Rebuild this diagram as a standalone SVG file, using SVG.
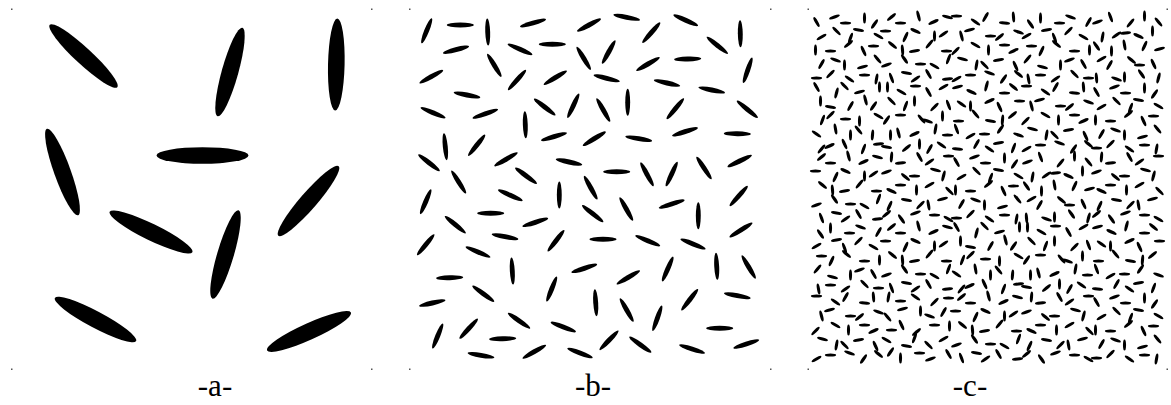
<svg xmlns="http://www.w3.org/2000/svg" xmlns:xlink="http://www.w3.org/1999/xlink" width="1171" height="405" viewBox="0 0 1171 405">
<style>
.lbl{font-family:"Liberation Serif","DejaVu Serif",serif;font-size:31px;fill:#000;text-anchor:middle}
.dot{fill:#555}
</style>
<defs>
<ellipse id="ea" cx="0" cy="0" rx="46" ry="8.3" fill="#000"/>
<ellipse id="eb" cx="0" cy="0" rx="13.5" ry="2.45" fill="#000"/>
<ellipse id="ec" cx="0" cy="0" rx="5.6" ry="1.55" fill="#000"/>
<g id="tA">
<use href="#ec" transform="translate(4 9) rotate(60)"/><use href="#ec" transform="translate(22 4) rotate(-20)"/><use href="#ec" transform="translate(33 10) rotate(0)"/><use href="#ec" transform="translate(52 5) rotate(90)"/><use href="#ec" transform="translate(62 11) rotate(-55)"/>
<use href="#ec" transform="translate(9 24) rotate(-30)"/><use href="#ec" transform="translate(24 18) rotate(45)"/><use href="#ec" transform="translate(38 25) rotate(-70)"/><use href="#ec" transform="translate(46 17) rotate(10)"/><use href="#ec" transform="translate(66 23) rotate(30)"/>
<use href="#ec" transform="translate(3 37) rotate(90)"/><use href="#ec" transform="translate(18 38) rotate(0)"/><use href="#ec" transform="translate(36 31) rotate(-40)"/><use href="#ec" transform="translate(51 38) rotate(65)"/><use href="#ec" transform="translate(61 33) rotate(0)"/>
<use href="#ec" transform="translate(9 51) rotate(-60)"/><use href="#ec" transform="translate(23 47) rotate(20)"/><use href="#ec" transform="translate(32 52) rotate(90)"/><use href="#ec" transform="translate(50 54) rotate(-15)"/><use href="#ec" transform="translate(65 46) rotate(50)"/>
<use href="#ec" transform="translate(4 65) rotate(0)"/><use href="#ec" transform="translate(18 61) rotate(-45)"/><use href="#ec" transform="translate(37 66) rotate(35)"/><use href="#ec" transform="translate(52 62) rotate(0)"/><use href="#ec" transform="translate(64 66) rotate(-80)"/>
</g>
<g id="tB">
<use href="#ec" transform="translate(9 4) rotate(-40)"/><use href="#ec" transform="translate(18 10) rotate(0)"/><use href="#ec" transform="translate(36 3) rotate(75)"/><use href="#ec" transform="translate(51 9) rotate(-25)"/><use href="#ec" transform="translate(65 4) rotate(15)"/>
<use href="#ec" transform="translate(3 18) rotate(0)"/><use href="#ec" transform="translate(23 24) rotate(-65)"/><use href="#ec" transform="translate(33 18) rotate(25)"/><use href="#ec" transform="translate(52 23) rotate(90)"/><use href="#ec" transform="translate(61 21) rotate(-35)"/>
<use href="#ec" transform="translate(10 32) rotate(40)"/><use href="#ec" transform="translate(20 37) rotate(85)"/><use href="#ec" transform="translate(32 38) rotate(-10)"/><use href="#ec" transform="translate(47 31) rotate(-50)"/><use href="#ec" transform="translate(64 38) rotate(0)"/>
<use href="#ec" transform="translate(4 52) rotate(-20)"/><use href="#ec" transform="translate(22 46) rotate(55)"/><use href="#ec" transform="translate(38 51) rotate(0)"/><use href="#ec" transform="translate(52 53) rotate(30)"/><use href="#ec" transform="translate(66 46) rotate(-70)"/>
<use href="#ec" transform="translate(9 65) rotate(70)"/><use href="#ec" transform="translate(24 60) rotate(10)"/><use href="#ec" transform="translate(33 66) rotate(-35)"/><use href="#ec" transform="translate(46 61) rotate(60)"/><use href="#ec" transform="translate(65 66) rotate(-5)"/>
</g>
<g id="tC">
<use href="#ec" transform="translate(4 3) rotate(0)"/><use href="#ec" transform="translate(23 9) rotate(35)"/><use href="#ec" transform="translate(33 4) rotate(-60)"/><use href="#ec" transform="translate(52 10) rotate(5)"/><use href="#ec" transform="translate(61 4) rotate(85)"/>
<use href="#ec" transform="translate(9 23) rotate(75)"/><use href="#ec" transform="translate(17 17) rotate(-15)"/><use href="#ec" transform="translate(38 23) rotate(0)"/><use href="#ec" transform="translate(47 24) rotate(-40)"/><use href="#ec" transform="translate(66 19) rotate(20)"/>
<use href="#ec" transform="translate(3 38) rotate(-45)"/><use href="#ec" transform="translate(23 32) rotate(30)"/><use href="#ec" transform="translate(36 37) rotate(90)"/><use href="#ec" transform="translate(52 32) rotate(0)"/><use href="#ec" transform="translate(61 38) rotate(-25)"/>
<use href="#ec" transform="translate(10 46) rotate(15)"/><use href="#ec" transform="translate(24 52) rotate(-80)"/><use href="#ec" transform="translate(32 52) rotate(45)"/><use href="#ec" transform="translate(46 47) rotate(-10)"/><use href="#ec" transform="translate(63 53) rotate(65)"/>
<use href="#ec" transform="translate(4 66) rotate(-30)"/><use href="#ec" transform="translate(18 62) rotate(0)"/><use href="#ec" transform="translate(37 60) rotate(20)"/><use href="#ec" transform="translate(51 66) rotate(-55)"/><use href="#ec" transform="translate(66 61) rotate(40)"/>
</g>
</defs>
<rect width="1171" height="405" fill="#fff"/>

<g id="panel-a">
<use href="#ea" transform="translate(83.5 56) rotate(42.8)"/>
<use href="#ea" transform="translate(230 72) rotate(-74.4)"/>
<use href="#ea" transform="translate(336.3 64.5) rotate(-88.7)"/>
<use href="#ea" transform="translate(62.5 172) rotate(70.2)"/>
<use href="#ea" transform="translate(202.5 155.5) rotate(0)"/>
<use href="#ea" transform="translate(308.5 201) rotate(-49)"/>
<use href="#ea" transform="translate(151 232) rotate(26)"/>
<use href="#ea" transform="translate(225.5 254.5) rotate(-73.6)"/>
<use href="#ea" transform="translate(95.5 319.5) rotate(28)"/>
<use href="#ea" transform="translate(309 331.5) rotate(-24.3)"/>
<rect class="dot" x="11" y="8.5" width="1.5" height="1.5"/><rect class="dot" x="371" y="8.5" width="1.5" height="1.5"/>
<rect class="dot" x="11" y="368.5" width="1.5" height="1.5"/><rect class="dot" x="371" y="368.5" width="1.5" height="1.5"/>
<text class="lbl" x="215" y="396">-a-</text>
</g>

<g id="panel-b">
<use href="#eb" transform="translate(426.7 30.7) rotate(-68)"/>
<use href="#eb" transform="translate(460.3 25) rotate(0)"/>
<use href="#eb" transform="translate(487.7 32) rotate(88)"/>
<use href="#eb" transform="translate(533 23) rotate(-16)"/>
<use href="#eb" transform="translate(589 25) rotate(-28)"/>
<use href="#eb" transform="translate(626.7 17.3) rotate(11)"/>
<use href="#eb" transform="translate(685.7 20.3) rotate(24)"/>
<use href="#eb" transform="translate(740.3 33.7) rotate(89)"/>
<use href="#eb" transform="translate(456 49.7) rotate(-15)"/>
<use href="#eb" transform="translate(520 49.3) rotate(23.5)"/>
<use href="#eb" transform="translate(552.3 44.3) rotate(0)"/>
<use href="#eb" transform="translate(651.3 32.7) rotate(-49)"/>
<use href="#eb" transform="translate(717.3 45.3) rotate(38.7)"/>
<use href="#eb" transform="translate(583.7 58.3) rotate(59)"/>
<use href="#eb" transform="translate(608.7 52) rotate(-61)"/>
<use href="#eb" transform="translate(494.3 65.3) rotate(59)"/>
<use href="#eb" transform="translate(648 64) rotate(-29.7)"/>
<use href="#eb" transform="translate(687.7 59) rotate(-2)"/>
<use href="#eb" transform="translate(747.7 70.3) rotate(-71)"/>
<use href="#eb" transform="translate(431.3 76.7) rotate(-29)"/>
<use href="#eb" transform="translate(517 80) rotate(-48.5)"/>
<use href="#eb" transform="translate(555.3 77.7) rotate(-31)"/>
<use href="#eb" transform="translate(606.7 78.3) rotate(14)"/>
<use href="#eb" transform="translate(667 83) rotate(13)"/>
<use href="#eb" transform="translate(711.7 90) rotate(11.3)"/>
<use href="#eb" transform="translate(467 95) rotate(10.9)"/>
<use href="#eb" transform="translate(627.7 102.3) rotate(90)"/>
<use href="#eb" transform="translate(433 112.7) rotate(22.9)"/>
<use href="#eb" transform="translate(485.3 113.7) rotate(-19.3)"/>
<use href="#eb" transform="translate(544.7 107) rotate(37.4)"/>
<use href="#eb" transform="translate(573.3 105.7) rotate(-65)"/>
<use href="#eb" transform="translate(603.3 110) rotate(60.3)"/>
<use href="#eb" transform="translate(675.3 108.7) rotate(-50.5)"/>
<use href="#eb" transform="translate(747.3 109.3) rotate(39.2)"/>
<use href="#eb" transform="translate(525.3 124.7) rotate(88)"/>
<use href="#eb" transform="translate(445.3 146.7) rotate(84.3)"/>
<use href="#eb" transform="translate(476.7 145.3) rotate(-51.6)"/>
<use href="#eb" transform="translate(554 136.7) rotate(-16.7)"/>
<use href="#eb" transform="translate(594.3 138.7) rotate(-31.6)"/>
<use href="#eb" transform="translate(638.7 138.7) rotate(9.6)"/>
<use href="#eb" transform="translate(685 131.7) rotate(-17.4)"/>
<use href="#eb" transform="translate(737.3 133.7) rotate(1)"/>
<use href="#eb" transform="translate(429 162.7) rotate(37.5)"/>
<use href="#eb" transform="translate(506 159.3) rotate(-30)"/>
<use href="#eb" transform="translate(569 162) rotate(11.9)"/>
<use href="#eb" transform="translate(458.7 182) rotate(57.7)"/>
<use href="#eb" transform="translate(526 175.7) rotate(36.7)"/>
<use href="#eb" transform="translate(616.7 171.7) rotate(0)"/>
<use href="#eb" transform="translate(647 174.3) rotate(61.5)"/>
<use href="#eb" transform="translate(671.7 174) rotate(-65)"/>
<use href="#eb" transform="translate(704 168) rotate(56.5)"/>
<use href="#eb" transform="translate(739.7 161) rotate(-25.9)"/>
<use href="#eb" transform="translate(425.7 201.7) rotate(-66.8)"/>
<use href="#eb" transform="translate(510.3 195.3) rotate(24)"/>
<use href="#eb" transform="translate(559.3 195) rotate(90)"/>
<use href="#eb" transform="translate(590.7 187.7) rotate(60.9)"/>
<use href="#eb" transform="translate(738.7 196) rotate(-48.5)"/>
<use href="#eb" transform="translate(490.7 213.3) rotate(0)"/>
<use href="#eb" transform="translate(592.7 213.7) rotate(38.3)"/>
<use href="#eb" transform="translate(626.3 209) rotate(60.8)"/>
<use href="#eb" transform="translate(671.7 204) rotate(-17.4)"/>
<use href="#eb" transform="translate(698.3 215.7) rotate(90)"/>
<use href="#eb" transform="translate(455.3 224.7) rotate(39.5)"/>
<use href="#eb" transform="translate(535.3 222.3) rotate(-17.8)"/>
<use href="#eb" transform="translate(741 230) rotate(-32.2)"/>
<use href="#eb" transform="translate(425.7 244.7) rotate(-50.6)"/>
<use href="#eb" transform="translate(505 236.7) rotate(10.7)"/>
<use href="#eb" transform="translate(556 240.7) rotate(-52.4)"/>
<use href="#eb" transform="translate(603 239.3) rotate(0)"/>
<use href="#eb" transform="translate(647.7 240.7) rotate(23)"/>
<use href="#eb" transform="translate(693 244) rotate(21.7)"/>
<use href="#eb" transform="translate(478 252) rotate(23.1)"/>
<use href="#eb" transform="translate(512.3 271) rotate(86.6)"/>
<use href="#eb" transform="translate(584.3 268.3) rotate(-18)"/>
<use href="#eb" transform="translate(667.7 269) rotate(-66.3)"/>
<use href="#eb" transform="translate(716.7 266.3) rotate(87)"/>
<use href="#eb" transform="translate(748.7 267) rotate(59.5)"/>
<use href="#eb" transform="translate(449.7 277.7) rotate(-2)"/>
<use href="#eb" transform="translate(628.3 277.3) rotate(-30.4)"/>
<use href="#eb" transform="translate(483.3 293.7) rotate(35.9)"/>
<use href="#eb" transform="translate(551.7 289) rotate(-68.2)"/>
<use href="#eb" transform="translate(595.7 302.7) rotate(86.4)"/>
<use href="#eb" transform="translate(626.7 310) rotate(60.3)"/>
<use href="#eb" transform="translate(689.7 299.7) rotate(-52.3)"/>
<use href="#eb" transform="translate(737.3 295.7) rotate(10.6)"/>
<use href="#eb" transform="translate(432.3 303) rotate(-12.7)"/>
<use href="#eb" transform="translate(519 320.7) rotate(34.7)"/>
<use href="#eb" transform="translate(563.3 327) rotate(21.1)"/>
<use href="#eb" transform="translate(657.3 318.3) rotate(-70.3)"/>
<use href="#eb" transform="translate(437.7 336) rotate(-67.7)"/>
<use href="#eb" transform="translate(468.7 328.7) rotate(-47.6)"/>
<use href="#eb" transform="translate(719.7 328.3) rotate(0)"/>
<use href="#eb" transform="translate(502.7 338.7) rotate(-2)"/>
<use href="#eb" transform="translate(609 340.3) rotate(-46)"/>
<use href="#eb" transform="translate(640.3 344.7) rotate(35.6)"/>
<use href="#eb" transform="translate(481 355.3) rotate(9.6)"/>
<use href="#eb" transform="translate(534.3 351.7) rotate(-29.7)"/>
<use href="#eb" transform="translate(580 353) rotate(20.5)"/>
<use href="#eb" transform="translate(692 349) rotate(18)"/>
<use href="#eb" transform="translate(746.3 344) rotate(-17.8)"/>
<rect class="dot" x="409" y="8.5" width="1.5" height="1.5"/><rect class="dot" x="770" y="8.5" width="1.5" height="1.5"/>
<rect class="dot" x="409" y="368.5" width="1.5" height="1.5"/><rect class="dot" x="770" y="368.5" width="1.5" height="1.5"/>
<text class="lbl" x="593" y="396">-b-</text>
</g>

<g id="panel-c">
<g transform="translate(812.5 13)">
<use href="#tA" transform="translate(0 0)"/>
<use href="#tB" transform="translate(70 0)"/>
<use href="#tC" transform="translate(140 0)"/>
<use href="#tA" transform="translate(210 0) translate(70 0) scale(-1 1)"/>
<use href="#tB" transform="translate(280 0) rotate(90 35 35)"/>
<use href="#tC" transform="translate(0 70) rotate(90 35 35)"/>
<use href="#tA" transform="translate(70 70) rotate(90 35 35)"/>
<use href="#tB" transform="translate(140 70) translate(70 0) scale(-1 1)"/>
<use href="#tC" transform="translate(210 70)"/>
<use href="#tA" transform="translate(280 70)"/>
<use href="#tB" transform="translate(0 140)"/>
<use href="#tC" transform="translate(70 140) translate(70 0) scale(-1 1)"/>
<use href="#tA" transform="translate(140 140)"/>
<use href="#tB" transform="translate(210 140) rotate(90 35 35)"/>
<use href="#tC" transform="translate(280 140) translate(70 0) scale(-1 1)"/>
<use href="#tA" transform="translate(0 210) translate(70 0) scale(-1 1)"/>
<use href="#tB" transform="translate(70 210)"/>
<use href="#tC" transform="translate(140 210) rotate(90 35 35)"/>
<use href="#tA" transform="translate(210 210) rotate(90 35 35)"/>
<use href="#tB" transform="translate(280 210) translate(70 0) scale(-1 1)"/>
<use href="#tC" transform="translate(0 280)"/>
<use href="#tA" transform="translate(70 280) rotate(180 35 35)"/>
<use href="#tB" transform="translate(140 280)"/>
<use href="#tC" transform="translate(210 280) translate(70 0) scale(-1 1)"/>
<use href="#tA" transform="translate(280 280)"/>
</g>
<rect class="dot" x="807.5" y="8.5" width="1.5" height="1.5"/><rect class="dot" x="1166.5" y="8.5" width="1.5" height="1.5"/>
<rect class="dot" x="807.5" y="368.5" width="1.5" height="1.5"/><rect class="dot" x="1166.5" y="368.5" width="1.5" height="1.5"/>
<text class="lbl" x="970" y="396">-c-</text>
</g>
</svg>
